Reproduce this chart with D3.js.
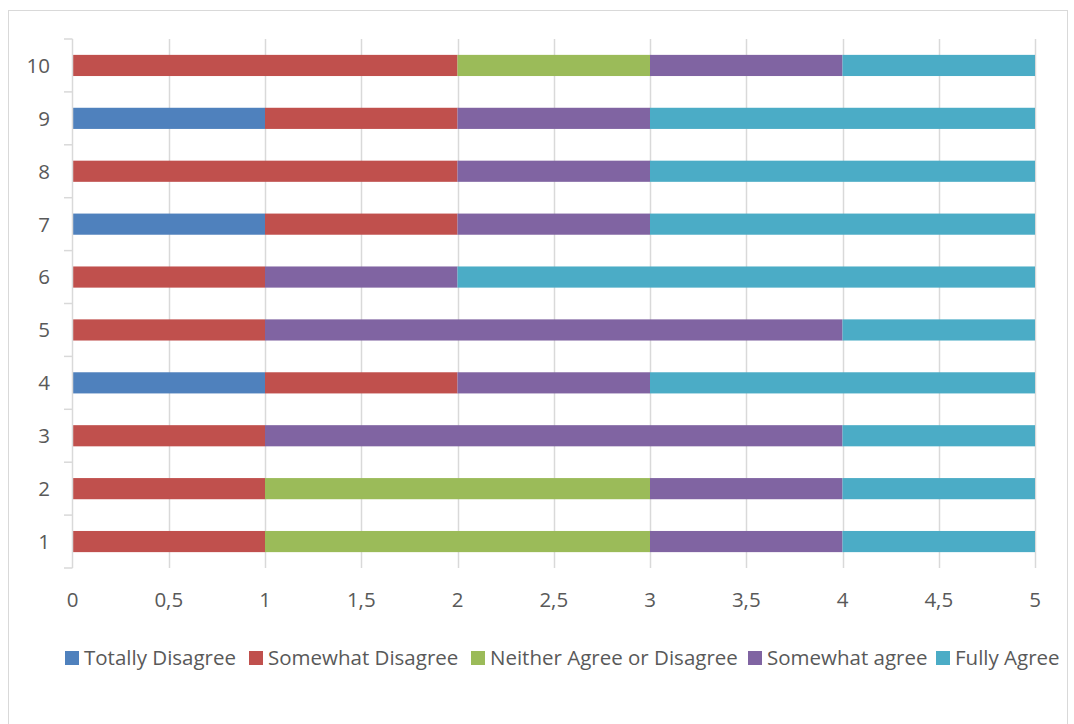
<!DOCTYPE html>
<html>
<head>
<meta charset="utf-8">
<script src="https://cdn.jsdelivr.net/npm/d3@7/dist/d3.min.js"></script>
<style>
  body { margin: 0; background: #fff; }
  svg text { font-family: "Open Sans", sans-serif; fill: #595959; }
</style>
</head>
<body>
<div id="chart"></div>
<script>
// questions, bottom to top
var questions = ["1", "2", "3", "4", "5", "6", "7", "8", "9", "10"];
var seriesNames = ["Totally Disagree", "Somewhat Disagree", "Neither Agree or Disagree", "Somewhat agree", "Fully Agree"];
var seriesColors = ["#4F81BD", "#C0504D", "#9BBB59", "#8064A2", "#4BACC6"];

var totallyDisagree = [0, 0, 0, 1, 0, 0, 1, 0, 1, 0];
var somewhatDisagree = [1, 1, 1, 1, 1, 1, 1, 2, 1, 2];
var neither = [2, 2, 0, 0, 0, 0, 0, 0, 0, 1];
var somewhatAgree = [1, 1, 3, 1, 3, 1, 1, 1, 1, 1];
var fullyAgree = [1, 1, 1, 2, 1, 3, 2, 2, 2, 1];

var xTicks = [0, 0.5, 1, 1.5, 2, 2.5, 3, 3.5, 4, 4.5, 5];

var width = 1074, height = 724;
var fontSize = "20.5px";

var svg = d3.select("#chart").append("svg")
    .attr("width", width)
    .attr("height", height);

// chart border
svg.append("rect")
    .attr("x", 8.5).attr("y", 10.5)
    .attr("width", 1059).attr("height", 720)
    .style("fill", "none")
    .style("stroke", "#d9d9d9")
    .style("stroke-width", 1);

var x = d3.scaleLinear().domain([0, 5]).range([72.5, 1035]);
var y = d3.scaleBand().domain(questions.slice().reverse()).range([39, 568]).paddingInner(0.6).paddingOuter(0.3);

var table = questions.map(function(q, i) {
  return {
    q: q,
    "Totally Disagree": totallyDisagree[i],
    "Somewhat Disagree": somewhatDisagree[i],
    "Neither Agree or Disagree": neither[i],
    "Somewhat agree": somewhatAgree[i],
    "Fully Agree": fullyAgree[i]
  };
});
var stacked = d3.stack().keys(seriesNames)(table);

// vertical gridlines
svg.append("g").selectAll("line")
    .data(xTicks.slice(1))
    .enter().append("line")
    .attr("x1", function(d) { return Math.round(x(d)) + 0.5; })
    .attr("x2", function(d) { return Math.round(x(d)) + 0.5; })
    .attr("y1", 39).attr("y2", 568)
    .style("stroke", "#d9d9d9")
    .style("stroke-width", 1.5);

// bars
svg.append("g").selectAll("g")
    .data(stacked)
    .enter().append("g")
    .style("fill", function(d, i) { return seriesColors[i]; })
    .selectAll("rect")
    .data(function(d) { return d; })
    .enter().append("rect")
    .filter(function(d) { return d[1] - d[0] > 0; })
    .attr("x", function(d) { return x(d[0]); })
    .attr("width", function(d) { return x(d[1]) - x(d[0]); })
    .attr("y", function(d) { return y(d.data.q); })
    .attr("height", y.bandwidth());

// y axis line with outward ticks at band edges
var yBounds = d3.range(questions.length + 1).map(function(i) { return 39 + i * (568 - 39) / questions.length; });
var yAxis = svg.append("g").style("stroke", "#d9d9d9").style("stroke-width", 1.5);
yAxis.append("line")
    .attr("x1", 72.5).attr("x2", 72.5)
    .attr("y1", 39).attr("y2", 568);
yAxis.selectAll("line.tick")
    .data(yBounds)
    .enter().append("line")
    .attr("class", "tick")
    .attr("x1", 64).attr("x2", 72.5)
    .attr("y1", function(d) { return d; })
    .attr("y2", function(d) { return d; });

// y labels
svg.append("g").selectAll("text")
    .data(questions)
    .enter().append("text")
    .attr("x", 50)
    .attr("y", function(d) { return y(d) + y.bandwidth() / 2; })
    .attr("dy", "0.36em")
    .attr("text-anchor", "end")
    .style("font-size", fontSize)
    .text(function(d) { return d; });

// x labels
var fmt = function(d) { return String(d).replace(".", ","); };
svg.append("g").selectAll("text")
    .data(xTicks)
    .enter().append("text")
    .attr("x", function(d) { return x(d); })
    .attr("y", 607)
    .attr("text-anchor", "middle")
    .style("font-size", fontSize)
    .text(fmt);

// legend
var legendX = [65, 249, 471, 748, 936];
var legend = svg.append("g").selectAll("g")
    .data(seriesNames)
    .enter().append("g")
    .attr("transform", function(d, i) { return "translate(" + legendX[i] + ",651)"; });
legend.append("rect")
    .attr("width", 14).attr("height", 14)
    .style("fill", function(d, i) { return seriesColors[i]; });
legend.append("text")
    .attr("x", 19)
    .attr("y", 14)
    .style("font-size", fontSize)
    .text(function(d) { return d; });
</script>
</body>
</html>
